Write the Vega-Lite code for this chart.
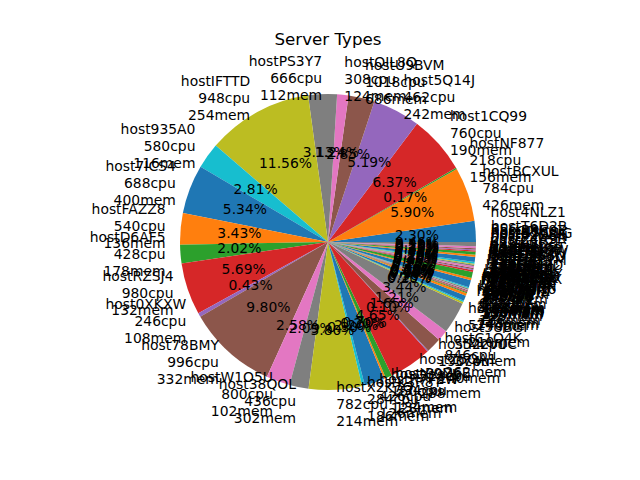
{
  "$schema": "https://vega.github.io/schema/vega-lite/v6.json",
  "width": 496,
  "height": 370,
  "autosize": {"type": "none"},
  "padding": {"left": 80, "top": 57, "right": 64, "bottom": 53},
  "background": "white",
  "title": {"text": "Server Types", "fontSize": 16.7, "font": "DejaVu Sans", "fontWeight": "normal", "color": "black", "offset": 6},
  "config": {"view": {"stroke": null}},
  "data": {"values": [
    {"host": "host4NLZ1", "cpu": 356, "mem": 144, "share": 0.0230},
    {"host": "hostBCXUL", "cpu": 784, "mem": 426, "share": 0.0590},
    {"host": "hostNF877", "cpu": 218, "mem": 156, "share": 0.0017},
    {"host": "host1CQ99", "cpu": 760, "mem": 190, "share": 0.0637},
    {"host": "host5Q14J", "cpu": 462, "mem": 242, "share": 0.0519},
    {"host": "hostU9BVM", "cpu": 1018, "mem": 686, "share": 0.0285},
    {"host": "hostQIL8Q", "cpu": 308, "mem": 124, "share": 0.0124},
    {"host": "hostPS3Y7", "cpu": 666, "mem": 112, "share": 0.0313},
    {"host": "hostIFTTD", "cpu": 948, "mem": 254, "share": 0.1156},
    {"host": "host935A0", "cpu": 580, "mem": 116, "share": 0.0281},
    {"host": "host7ICS4", "cpu": 688, "mem": 400, "share": 0.0534},
    {"host": "hostFAZZ8", "cpu": 540, "mem": 136, "share": 0.0343},
    {"host": "hostD6AF5", "cpu": 428, "mem": 178, "share": 0.0202},
    {"host": "hostRZSJ4", "cpu": 980, "mem": 132, "share": 0.0569},
    {"host": "host0XKXW", "cpu": 246, "mem": 108, "share": 0.0043},
    {"host": "host78BMY", "cpu": 996, "mem": 332, "share": 0.0980},
    {"host": "hostW1O5U", "cpu": 800, "mem": 102, "share": 0.0258},
    {"host": "host38QOL", "cpu": 436, "mem": 302, "share": 0.0209},
    {"host": "hostX2K7Q", "cpu": 782, "mem": 214, "share": 0.0580},
    {"host": "hostK3R8T", "cpu": 284, "mem": 186, "share": 0.0030},
    {"host": "hostR7F2W", "cpu": 426, "mem": 126, "share": 0.0220},
    {"host": "hostXJ9YL", "cpu": 150, "mem": 128, "share": 0.0020},
    {"host": "hostP0D6E", "cpu": 334, "mem": 134, "share": 0.0070},
    {"host": "hostZ5QA1", "cpu": 528, "mem": 288, "share": 0.0465},
    {"host": "hostM2V0C", "cpu": 190, "mem": 140, "share": 0.0010},
    {"host": "hostC1Q4K", "cpu": 846, "mem": 262, "share": 0.0165},
    {"host": "host5UBGI", "cpu": 552, "mem": 374, "share": 0.0121},
    {"host": "hostS8HJR", "cpu": 574, "mem": 210, "share": 0.0344},
    {"host": "hostGPDIZ", "cpu": 318, "mem": 274, "share": 0.0020},
    {"host": "hostN4DN6", "cpu": 202, "mem": 148, "share": 0.0015},
    {"host": "hostYB2DN", "cpu": 612, "mem": 166, "share": 0.0058},
    {"host": "hostH9T3E", "cpu": 394, "mem": 220, "share": 0.0030},
    {"host": "hostJ6W1A", "cpu": 170, "mem": 104, "share": 0.0010},
    {"host": "hostQ8MZX", "cpu": 236, "mem": 158, "share": 0.0008},
    {"host": "hostF2L5R", "cpu": 128, "mem": 110, "share": 0.0005},
    {"host": "hostV7C0K", "cpu": 262, "mem": 196, "share": 0.0010},
    {"host": "hostB3E9S", "cpu": 144, "mem": 118, "share": 0.0007},
    {"host": "hostT1G4H", "cpu": 298, "mem": 164, "share": 0.0012},
    {"host": "hostL5P8U", "cpu": 132, "mem": 106, "share": 0.0005},
    {"host": "hostW0R2Y", "cpu": 206, "mem": 138, "share": 0.0010},
    {"host": "hostA6X4K", "cpu": 642, "mem": 228, "share": 0.0078},
    {"host": "hostE9N7D", "cpu": 372, "mem": 182, "share": 0.0025},
    {"host": "hostG4Z1M", "cpu": 590, "mem": 316, "share": 0.0066},
    {"host": "hostU2K6Q", "cpu": 254, "mem": 172, "share": 0.0020},
    {"host": "hostD8S3J", "cpu": 168, "mem": 120, "share": 0.0010},
    {"host": "hostO5H0V", "cpu": 226, "mem": 152, "share": 0.0015},
    {"host": "hostI7B2F", "cpu": 272, "mem": 146, "share": 0.0020},
    {"host": "hostC3Y9W", "cpu": 214, "mem": 130, "share": 0.0015},
    {"host": "hostM6J8P", "cpu": 188, "mem": 114, "share": 0.0010},
    {"host": "hostH1V5T", "cpu": 278, "mem": 198, "share": 0.0020},
    {"host": "hostK0F7L", "cpu": 520, "mem": 244, "share": 0.0055},
    {"host": "hostZ4A3R", "cpu": 306, "mem": 160, "share": 0.0025},
    {"host": "hostP9Q6N", "cpu": 344, "mem": 206, "share": 0.0030},
    {"host": "hostS2U8E", "cpu": 240, "mem": 142, "share": 0.0015},
    {"host": "hostB7W1G", "cpu": 176, "mem": 122, "share": 0.0010},
    {"host": "hostN3C5X", "cpu": 230, "mem": 168, "share": 0.0015},
    {"host": "hostR8E0Z", "cpu": 258, "mem": 176, "share": 0.0020},
    {"host": "hostT6D2B", "cpu": 410, "mem": 232, "share": 0.0046}
  ]},
  "transform": [
    {"window": [{"op": "row_number", "as": "idx"}]},
    {"calculate": "datum.host + '\\n' + datum.cpu + 'cpu\\n' + datum.mem + 'mem'", "as": "label"}
  ],
  "encoding": {
    "theta": {"field": "share", "type": "quantitative", "stack": true, "scale": {"range": [1.5707963, -4.712389]}},
    "order": {"field": "idx", "type": "quantitative"}
  },
  "layer": [
    {
      "mark": {"type": "arc", "outerRadius": 148},
      "encoding": {
        "color": {"field": "host", "type": "nominal", "sort": null, "legend": null,
          "scale": {"range": ["#1f77b4", "#ff7f0e", "#2ca02c", "#d62728", "#9467bd", "#8c564b", "#e377c2", "#7f7f7f", "#bcbd22", "#17becf"]}}
      }
    },
    {
      "mark": {"type": "text", "radius": 163, "align": "left", "baseline": "middle", "dy": -17, "lineBreak": "\n", "lineHeight": 17, "fontSize": 13.9, "font": "DejaVu Sans", "color": "black"},
      "encoding": {"text": {"condition": {"test": "datum.idx < 8 || datum.idx > 18", "field": "label", "type": "nominal"}, "value": ""}}
    },
    {
      "mark": {"type": "text", "radius": 163, "align": "right", "baseline": "middle", "dy": -17, "lineBreak": "\n", "lineHeight": 17, "fontSize": 13.9, "font": "DejaVu Sans", "color": "black"},
      "encoding": {"text": {"condition": {"test": "datum.idx >= 8 && datum.idx <= 18", "field": "label", "type": "nominal"}, "value": ""}}
    },
    {
      "mark": {"type": "text", "radius": 89, "align": "center", "baseline": "middle", "fontSize": 13.9, "font": "DejaVu Sans", "color": "black"},
      "encoding": {"text": {"field": "share", "type": "quantitative", "format": ".2%"}}
    }
  ]
}
